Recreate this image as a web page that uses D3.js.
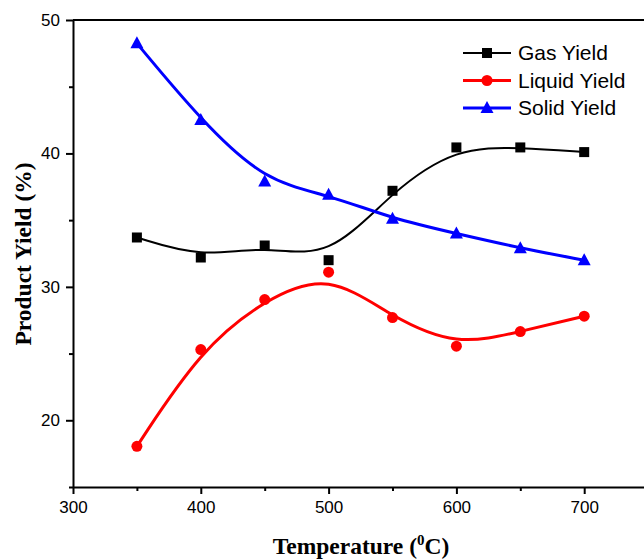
<!DOCTYPE html>
<html>
<head>
<meta charset="utf-8">
<script src="https://cdn.jsdelivr.net/npm/d3@7"></script>
<style>
  body { margin: 0; background: #fff; }
  svg { display: block; }
  .tick text { font-family: "Liberation Sans", Arial, sans-serif; font-size: 17px; fill: #000; }
  .axis-title { font-family: "Liberation Serif", "Times New Roman", serif; font-weight: bold; font-size: 23.5px; }
  .legend text { font-family: "Liberation Sans", Arial, sans-serif; font-size: 21px; }
</style>
</head>
<body>
<svg id="chart" width="644" height="559"></svg>
<script>
// Temperatures (C) and yields (%)
var temps = [350, 400, 450, 500, 550, 600, 650, 700];
var gasYield = [33.7, 32.2, 33.1, 32.0, 37.2, 40.45, 40.45, 40.1];
var liquidYield = [18.05, 25.3, 29.05, 31.1, 27.7, 25.55, 26.65, 27.8];
var solidYield = [48.25, 42.5, 37.9, 36.9, 35.1, 34.0, 32.9, 32.0];
var seriesNames = ["Gas Yield", "Liquid Yield", "Solid Yield"];
var seriesColors = ["#000000", "#ff0000", "#0000ff"];
var xTicks = [300, 400, 500, 600, 700];
var yTicks = [20, 30, 40, 50];

var svg = d3.select("#chart");
var plotLeft = 73, plotTop = 20, plotBottom = 487;

var xScale = d3.scaleLinear().domain([300, 800]).range([plotLeft, 712]);
var yScale = d3.scaleLinear().domain([15, 50]).range([plotBottom, plotTop]);

// minor ticks first so the major ones sit on top
svg.append("g")
    .attr("transform", "translate(0," + plotBottom + ")")
    .call(d3.axisBottom(xScale).tickValues([350, 450, 550, 650, 750]).tickSize(4).tickFormat(""))
    .call(function(g){ g.select(".domain").remove(); })
    .selectAll("line").attr("stroke-width", 2);

svg.append("g")
    .attr("transform", "translate(" + plotLeft + ",0)")
    .call(d3.axisLeft(yScale).tickValues([15, 25, 35, 45]).tickSize(4).tickFormat(""))
    .call(function(g){ g.select(".domain").remove(); })
    .selectAll("line").attr("stroke-width", 2);

var xAxis = svg.append("g")
    .attr("transform", "translate(0," + plotBottom + ")")
    .call(d3.axisBottom(xScale).tickValues(xTicks).tickSize(7).tickPadding(7).tickSizeOuter(0));
xAxis.select(".domain").attr("stroke-width", 2);
xAxis.selectAll(".tick line").attr("stroke-width", 2);

var yAxis = svg.append("g")
    .attr("transform", "translate(" + plotLeft + ",0)")
    .call(d3.axisLeft(yScale).tickValues(yTicks).tickSize(7).tickPadding(6).tickSizeOuter(0));
yAxis.select(".domain").attr("stroke-width", 2);
yAxis.selectAll(".tick line").attr("stroke-width", 2);

// top frame line
svg.append("line")
    .attr("x1", plotLeft).attr("x2", 712)
    .attr("y1", plotTop).attr("y2", plotTop)
    .attr("stroke", "#000").attr("stroke-width", 2);

// axis titles
var xTitle = svg.append("text")
    .attr("class", "axis-title")
    .attr("x", 361).attr("y", 554)
    .attr("text-anchor", "middle");
xTitle.append("tspan").text("Temperature (");
xTitle.append("tspan").attr("font-size", "15px").attr("dy", -9).text("0");
xTitle.append("tspan").attr("dy", 9).text("C)");

svg.append("text")
    .attr("class", "axis-title")
    .attr("transform", "translate(31,254) rotate(-90)")
    .attr("text-anchor", "middle")
    .text("Product Yield (%)");

var allSeries = [gasYield, liquidYield, solidYield];
var widths = [2, 3, 3];

var line = d3.line()
    .x(function(d, i){ return xScale(temps[i]); })
    .y(function(d){ return yScale(d); })
    .curve(d3.curveBasis);

allSeries.forEach(function(vals, s){
    svg.append("path")
        .datum(vals)
        .attr("d", line)
        .attr("fill", "none")
        .attr("stroke", seriesColors[s])
        .attr("stroke-width", widths[s]);
});

function drawMarker(g, s, cx, cy){
    if (s === 0) {
        g.append("rect").attr("x", cx - 5).attr("y", cy - 5)
            .attr("width", 10).attr("height", 10).attr("fill", seriesColors[s]);
    } else if (s === 1) {
        g.append("circle").attr("cx", cx).attr("cy", cy).attr("r", 5.5)
            .attr("fill", seriesColors[s]);
    } else {
        g.append("path")
            .attr("d", "M" + cx + "," + (cy - 7) + "L" + (cx + 6.5) + "," + (cy + 5) + "L" + (cx - 6.5) + "," + (cy + 5) + "Z")
            .attr("fill", seriesColors[s]);
    }
}

allSeries.forEach(function(vals, s){
    var g = svg.append("g");
    vals.forEach(function(v, i){
        drawMarker(g, s, xScale(temps[i]), yScale(v));
    });
});

// legend
var legend = svg.append("g").attr("class", "legend");
seriesNames.forEach(function(name, s){
    var y = 53 + s * 27.5;
    legend.append("line")
        .attr("x1", 463).attr("x2", 511)
        .attr("y1", y).attr("y2", y)
        .attr("stroke", seriesColors[s]).attr("stroke-width", widths[s]);
    drawMarker(legend, s, 487, y);
    legend.append("text")
        .attr("x", 518).attr("y", y + 7)
        .text(name);
});
</script>
</body>
</html>
